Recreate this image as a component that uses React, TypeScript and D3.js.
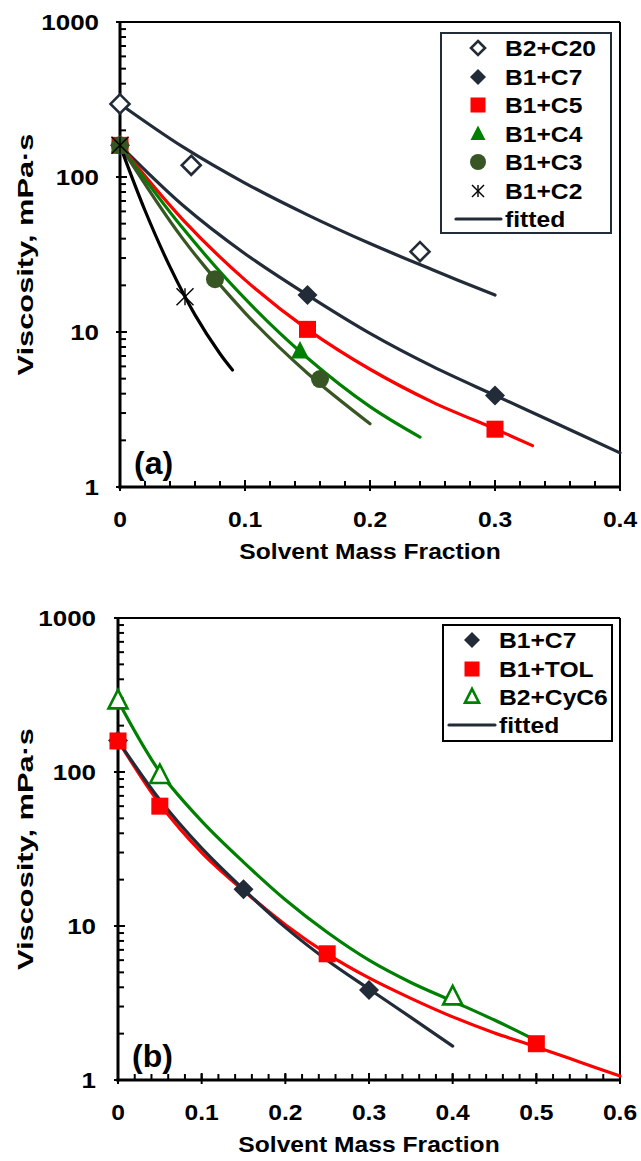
import React from 'react';
import * as d3 from 'd3';

const NAVY = '#222b38';
const RED = '#ff0000';
const GREEN = '#008000';
const OLIVE = '#375623';
const BLACK = '#000000';
const FONT = '"Liberation Sans", Arial, Helvetica, sans-serif';

// ---------- Panel (a) data ----------
const xTicksA = [0, 0.1, 0.2, 0.3, 0.4];
const xTickLabelsA = ['0', '0.1', '0.2', '0.3', '0.4'];
const yTicks = [1, 10, 100, 1000];
const yTickLabels = ['1', '10', '100', '1000'];

const fracC20 = [0, 0.057, 0.24];
const viscC20 = [296, 119, 33];
const fracC7 = [0, 0.15, 0.3];
const viscC7 = [160, 17.3, 3.9];
const fracC5 = [0, 0.15, 0.3];
const viscC5 = [160, 10.4, 2.36];
const fracC4 = [0, 0.144];
const viscC4 = [160, 7.5];
const fracC3 = [0, 0.076, 0.16];
const viscC3 = [160, 21.9, 4.97];
const fracC2 = [0, 0.052];
const viscC2 = [160, 16.9];

// fitted curves
const fitC20X = [0, 0.05, 0.1, 0.15, 0.2, 0.25, 0.3];
const fitC20Y = [296, 157, 91.4, 57, 37.2, 25.2, 17.3];
const fitC7X = [0, 0.05, 0.1, 0.15, 0.2, 0.25, 0.3, 0.35, 0.4];
const fitC7Y = [160, 66, 32, 17.3, 9.8, 6.0, 3.9, 2.55, 1.66];
const fitC5X = [0, 0.05, 0.1, 0.15, 0.2, 0.25, 0.3, 0.33];
const fitC5Y = [160, 53.3, 21.7, 10.4, 5.75, 3.53, 2.37, 1.85];
const fitC4X = [0, 0.05, 0.1, 0.15, 0.2, 0.24];
const fitC4Y = [160, 47, 16.4, 6.8, 3.3, 2.1];
const fitC3X = [0, 0.05, 0.1, 0.15, 0.2];
const fitC3Y = [160, 40.2, 13.3, 5.42, 2.56];
const fitC2X = [0, 0.02, 0.04, 0.06, 0.08, 0.09];
const fitC2Y = [160, 60.8, 26.3, 12.9, 7.24, 5.69];

// ---------- Panel (b) data ----------
const xTicksB = [0, 0.1, 0.2, 0.3, 0.4, 0.5, 0.6];
const xTickLabelsB = ['0', '0.1', '0.2', '0.3', '0.4', '0.5', '0.6'];

const fracB7 = [0, 0.15, 0.3];
const viscB7 = [160, 17.3, 3.84];
const fracTOL = [0, 0.05, 0.25, 0.5];
const viscTOL = [159, 60, 6.6, 1.72];
const fracCyC6 = [0, 0.05, 0.4];
const viscCyC6 = [290, 95, 3.47];

const fitTOLX = [0, 0.05, 0.1, 0.15, 0.2, 0.25, 0.3, 0.35, 0.4, 0.45, 0.5, 0.55, 0.6];
const fitTOLY = [160, 62, 30, 17, 10.2, 6.6, 4.6, 3.39, 2.57, 2.02, 1.64, 1.32, 1.06];
const fitCyC6X = [0, 0.05, 0.1, 0.15, 0.2, 0.25, 0.3, 0.35, 0.4, 0.45, 0.495];
const fitCyC6Y = [290, 100, 48, 26, 14.8, 9.1, 6.0, 4.3, 3.25, 2.45, 1.86];

const legendA = ['B2+C20', 'B1+C7', 'B1+C5', 'B1+C4', 'B1+C3', 'B1+C2', 'fitted'];
const legendB = ['B1+C7', 'B1+TOL', 'B2+CyC6', 'fitted'];

type Shape = 'diamond' | 'diamondOpen' | 'square' | 'triangle' | 'triangleOpen' | 'circle' | 'star';

function Marker({ shape, x, y, s, color }: { shape: Shape; x: number; y: number; s: number; color: string }) {
  switch (shape) {
    case 'diamond':
      return <path d={`M${x},${y - s}L${x + s},${y}L${x},${y + s}L${x - s},${y}Z`} fill={color} />;
    case 'diamondOpen':
      return <path d={`M${x},${y - s}L${x + s},${y}L${x},${y + s}L${x - s},${y}Z`} fill="#fff" stroke={color} strokeWidth={2.6} />;
    case 'square':
      return <rect x={x - s} y={y - s} width={2 * s} height={2 * s} fill={color} />;
    case 'triangle':
      return <path d={`M${x},${y - s * 1.15}L${x + s},${y + s * 0.8}L${x - s},${y + s * 0.8}Z`} fill={color} />;
    case 'triangleOpen':
      return <path d={`M${x},${y - s * 1.15}L${x + s},${y + s * 0.8}L${x - s},${y + s * 0.8}Z`} fill="#fff" stroke={color} strokeWidth={2.6} />;
    case 'circle':
      return <circle cx={x} cy={y} r={s} fill={color} />;
    case 'star':
      return (
        <g stroke={color} strokeWidth={1.4}>
          <line x1={x - s} y1={y - s} x2={x + s} y2={y + s} />
          <line x1={x - s} y1={y + s} x2={x + s} y2={y - s} />
          <line x1={x} y1={y - s} x2={x} y2={y + s} />
        </g>
      );
  }
  return null;
}

function Txt({ x, y, children, size = 22, sx = 1.15, anchor = 'middle', rotate = 0 }: any) {
  return (
    <text
      transform={`translate(${x},${y}) rotate(${rotate}) scale(${sx},1)`}
      textAnchor={anchor}
      fontFamily={FONT}
      fontWeight="bold"
      fontSize={size}
      fill="#000"
    >
      {children}
    </text>
  );
}

type SeriesPts = { xs: number[]; ys: number[]; shape: Shape; color: string; size: number };
type Fit = { xs: number[]; ys: number[]; color: string };
type LegendItem = { label: string; shape?: Shape; color: string; size?: number };

function Panel(props: {
  left: number; right: number; top: number; bottom: number; xMax: number;
  xTicks: number[]; xTickLabels: string[]; labelRight: number;
  fits: Fit[]; series: SeriesPts[]; tag: string;
  legend: { x0: number; x1: number; y0: number; y1: number; mx: number; tx: number; rows: number[]; lx0: number; lx1: number; items: LegendItem[]; stroke: string };
}) {
  const { left, right, top, bottom, xMax, xTicks, xTickLabels, fits, series, legend } = props;
  const x = d3.scaleLinear().domain([0, xMax]).range([left, right]);
  const y = d3.scaleLog().domain([1, 1000]).range([bottom, top]);
  const line = d3.line<[number, number]>().x((d) => x(d[0])).y((d) => y(d[1])).curve(d3.curveCatmullRom.alpha(0.5));
  const minorY: number[] = [];
  [1, 10, 100].forEach((d) => { for (let k = 2; k <= 9; k++) minorY.push(d * k); });
  const minorX = d3.range(0, Math.round(xMax / 0.02) + 1).map((i) => i * 0.02);

  return (
    <g>
      {/* frame */}
      <line x1={left} y1={top} x2={right} y2={top} stroke="#000" strokeWidth={2} />
      <line x1={right} y1={top} x2={right} y2={bottom} stroke="#000" strokeWidth={2} />
      {/* ticks */}
      {minorY.map((v) => (
        <line key={'my' + v} x1={left} x2={left + 6} y1={y(v)} y2={y(v)} stroke="#000" strokeWidth={2} />
      ))}
      {yTicks.map((v) => (
        <line key={'My' + v} x1={left - 4} x2={left + 7} y1={y(v)} y2={y(v)} stroke="#000" strokeWidth={2} />
      ))}
      {minorX.map((v) => (
        <line key={'mx' + v} x1={x(v)} x2={x(v)} y1={bottom} y2={bottom - 6} stroke="#000" strokeWidth={2} />
      ))}
      {xTicks.map((v) => (
        <line key={'Mx' + v} x1={x(v)} x2={x(v)} y1={bottom + 4} y2={bottom - 7} stroke="#000" strokeWidth={2} />
      ))}
      <line x1={left} y1={top - 1} x2={left} y2={bottom + 1.5} stroke="#000" strokeWidth={3} />
      <line x1={left - 1.5} y1={bottom} x2={right + 1} y2={bottom} stroke="#000" strokeWidth={3} />
      {/* tick labels */}
      {yTicks.map((v, i) => (
        <Txt key={'yl' + v} x={props.labelRight} y={y(v) + 8} anchor="end" sx={1.18}>{yTickLabels[i]}</Txt>
      ))}
      {xTicks.map((v, i) => (
        <Txt key={'xl' + v} x={x(v)} y={bottom + 40} sx={1.12}>{xTickLabels[i]}</Txt>
      ))}
      <Txt x={(left + right) / 2} y={bottom + 72} sx={1.12}>Solvent Mass Fraction</Txt>
      <Txt x={33} y={(top + bottom) / 2} rotate={-90} sx={1.4}>Viscosity, mPa·s</Txt>
      <Txt x={left + 14} y={bottom - 13} size={32} sx={1} anchor="start">{props.tag}</Txt>
      {/* fitted lines */}
      {fits.map((f, i) => (
        <path key={'f' + i} d={line(f.xs.map((v, j) => [v, f.ys[j]] as [number, number])) || ''} fill="none" stroke={f.color} strokeWidth={3.2} strokeLinecap="round" />
      ))}
      {/* markers */}
      {series.map((s, i) => (
        <g key={'s' + i}>
          {s.xs.map((v, j) => (
            <Marker key={j} shape={s.shape} x={x(v)} y={y(s.ys[j])} s={s.size} color={s.color} />
          ))}
        </g>
      ))}
      {/* legend */}
      <rect x={legend.x0} y={legend.y0} width={legend.x1 - legend.x0} height={legend.y1 - legend.y0} fill="#fff" stroke={legend.stroke} strokeWidth={2} />
      {legend.items.map((it, i) => (
        <g key={'lg' + i}>
          {it.shape ? (
            <Marker shape={it.shape} x={legend.mx} y={legend.rows[i]} s={it.size || 7} color={it.color} />
          ) : (
            <line x1={legend.lx0} x2={legend.lx1} y1={legend.rows[i]} y2={legend.rows[i]} stroke={it.color} strokeWidth={3.2} strokeLinecap="round" />
          )}
          <Txt x={legend.tx} y={legend.rows[i] + 8} anchor="start" sx={1.12}>{it.label}</Txt>
        </g>
      ))}
    </g>
  );
}

export default function App() {
  return (
    <svg width={641} height={1161} style={{ position: 'absolute', left: 0, top: 0, background: '#fff' }}>
      <rect width={641} height={1161} fill="#fff" />
      <Panel
        left={120} right={620} top={22} bottom={487} xMax={0.4}
        xTicks={xTicksA} xTickLabels={xTickLabelsA} labelRight={99} tag="(a)"
        fits={[
          { xs: fitC20X, ys: fitC20Y, color: NAVY },
          { xs: fitC7X, ys: fitC7Y, color: NAVY },
          { xs: fitC5X, ys: fitC5Y, color: RED },
          { xs: fitC4X, ys: fitC4Y, color: GREEN },
          { xs: fitC3X, ys: fitC3Y, color: OLIVE },
          { xs: fitC2X, ys: fitC2Y, color: BLACK },
        ]}
        series={[
          { xs: fracC20, ys: viscC20, shape: 'diamondOpen', color: NAVY, size: 9.5 },
          { xs: fracC7, ys: viscC7, shape: 'diamond', color: NAVY, size: 10 },
          { xs: fracC5, ys: viscC5, shape: 'square', color: RED, size: 8.5 },
          { xs: fracC4, ys: viscC4, shape: 'triangle', color: GREEN, size: 9 },
          { xs: fracC3, ys: viscC3, shape: 'circle', color: OLIVE, size: 9 },
          { xs: fracC2, ys: viscC2, shape: 'star', color: BLACK, size: 8.5 },
        ]}
        legend={{
          x0: 441, x1: 611, y0: 33, y1: 233, mx: 478, tx: 505, lx0: 456, lx1: 501,
          rows: [48, 77, 105, 134, 162, 191, 219], stroke: NAVY,
          items: [
            { label: legendA[0], shape: 'diamondOpen', color: NAVY, size: 7 },
            { label: legendA[1], shape: 'diamond', color: NAVY, size: 8 },
            { label: legendA[2], shape: 'square', color: RED, size: 7.5 },
            { label: legendA[3], shape: 'triangle', color: GREEN, size: 7.5 },
            { label: legendA[4], shape: 'circle', color: OLIVE, size: 8 },
            { label: legendA[5], shape: 'star', color: BLACK, size: 6 },
            { label: legendA[6], color: NAVY },
          ],
        }}
      />
      <Panel
        left={118} right={620} top={618} bottom={1080} xMax={0.6}
        xTicks={xTicksB} xTickLabels={xTickLabelsB} labelRight={96} tag="(b)"
        fits={[
          { xs: fitTOLX, ys: fitTOLY, color: RED },
          { xs: fitC7X, ys: fitC7Y, color: NAVY },
          { xs: fitCyC6X, ys: fitCyC6Y, color: GREEN },
        ]}
        series={[
          { xs: fracB7, ys: viscB7, shape: 'diamond', color: NAVY, size: 10 },
          { xs: fracTOL, ys: viscTOL, shape: 'square', color: RED, size: 8.5 },
          { xs: fracCyC6, ys: viscCyC6, shape: 'triangleOpen', color: GREEN, size: 9.5 },
        ]}
        legend={{
          x0: 443, x1: 612, y0: 625, y1: 741, mx: 472, tx: 499, lx0: 449, lx1: 495,
          rows: [640, 669, 697, 725], stroke: BLACK,
          items: [
            { label: legendB[0], shape: 'diamond', color: NAVY, size: 8 },
            { label: legendB[1], shape: 'square', color: RED, size: 7.5 },
            { label: legendB[2], shape: 'triangleOpen', color: GREEN, size: 7 },
            { label: legendB[3], color: NAVY },
          ],
        }}
      />
    </svg>
  );
}
